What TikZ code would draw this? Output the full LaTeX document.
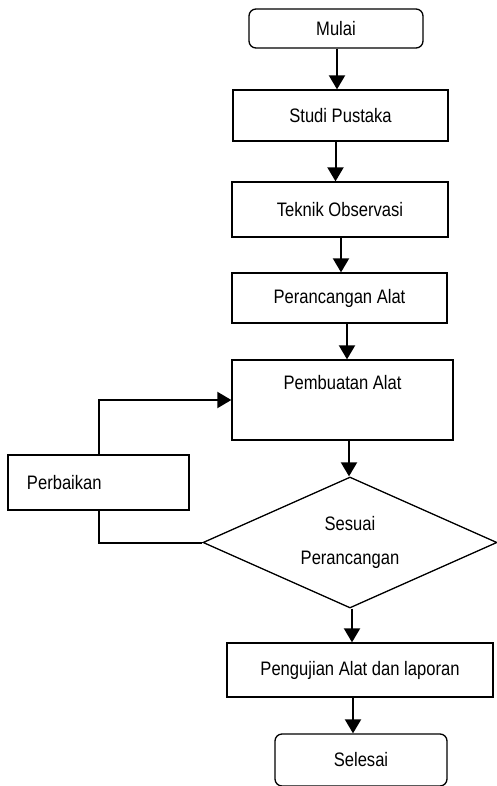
\documentclass[tikz,border=0pt]{standalone}
\usepackage{fontspec}
\setmainfont{Liberation Sans}[FakeStretch=0.85]
\usetikzlibrary{shapes,arrows,positioning,calc,arrows.meta}

\begin{document}
\begin{tikzpicture}[x=1pt, y=-1pt, >={Triangle[length=14pt,width=16pt]},
    txt/.style={font=\fontsize{19.5}{22}\selectfont},
    box/.style={txt, draw, line width=1.3pt, rectangle, inner sep=0pt},
    term/.style={box, rounded corners=7pt},
    flow/.style={->, line width=2pt}]
    \useasboundingbox (0,0) rectangle (497,786);

    \node[term, minimum width=174pt, minimum height=39pt] (mulai) at (336, 28.5) {Mulai};
    \node[box, minimum width=215pt, minimum height=51pt] (studi) at (340.5, 115.5) {Studi Pustaka};
    \node[box, minimum width=216pt, minimum height=55pt] (teknik) at (340, 209.5) {Teknik Observasi};
    \node[box, minimum width=215pt, minimum height=50pt] (rancang) at (339.5, 298) {Perancangan Alat};
    \node[box, minimum width=221pt, minimum height=80pt, text height=14pt, text depth=36pt] (buat) at (342.5, 400) {Pembuatan Alat};
    \node[txt, draw, line width=1.3pt, diamond, aspect=2.2, inner sep=0pt, align=center,
          minimum width=294pt, minimum height=131pt] (cek) at (350, 542.5) {Sesuai\\[12pt]Perancangan};
    \node[box, minimum width=266pt, minimum height=54pt] (uji) at (360, 670) {Pengujian Alat dan laporan};
    \node[term, minimum width=172pt, minimum height=52pt] (selesai) at (361, 760) {Selesai};
    \node[box, minimum width=181pt, minimum height=55pt, inner xsep=19pt, text width=143pt, align=left] (perbaikan) at (98.5, 482.5) {Perbaikan};

    % alur utama
    \foreach \a/\b/\dx in {mulai/studi/1, studi/teknik/-5, teknik/rancang/1, rancang/buat/7.5,
                           buat/cek/6.5, cek/uji/2, uji/selesai/-7}
        \draw[flow] ([xshift=\dx pt]\a.south) -- ([xshift=\dx pt]\a.south |- \b.north);

    % perbaikan
    \draw[flow] (perbaikan.north) |- (buat.west);
    \draw[line width=2pt] (cek.west) -| (perbaikan.south);
\end{tikzpicture}
\end{document}
